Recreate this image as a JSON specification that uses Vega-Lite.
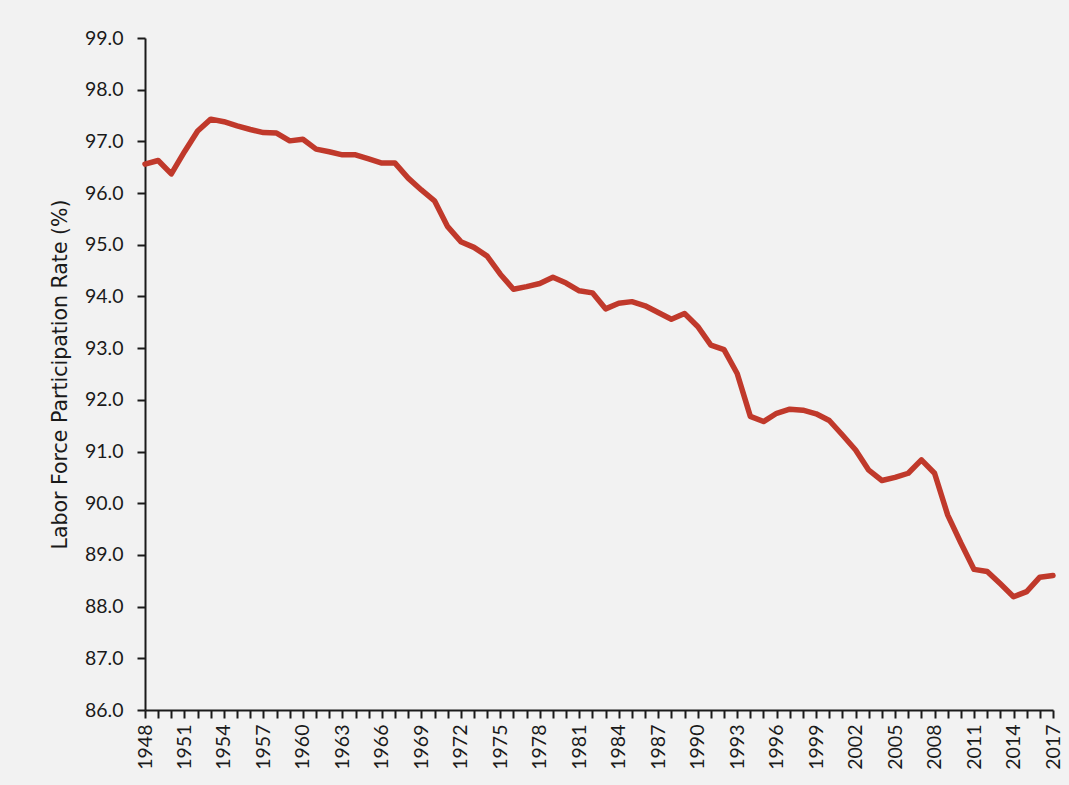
{
  "$schema": "https://vega.github.io/schema/vega-lite/v6.json",
  "width": 908,
  "height": 672,
  "autosize": {"type": "none"},
  "padding": {"left": 145, "top": 38, "right": 16, "bottom": 75},
  "background": "#f2f2f2",
  "config": {
    "view": {"stroke": null},
    "font": "Lato",
    "axis": {
      "labelFont": "Lato",
      "titleFont": "DejaVu Sans",
      "labelColor": "#1a1a1a",
      "titleColor": "#1a1a1a",
      "domainColor": "#1a1a1a",
      "tickColor": "#1a1a1a",
      "domainWidth": 2,
      "tickWidth": 2,
      "tickSize": 8,
      "grid": false
    }
  },
  "data": {
    "values": [
      {"year": 1948, "rate": 96.56},
      {"year": 1949, "rate": 96.63},
      {"year": 1950, "rate": 96.37},
      {"year": 1951, "rate": 96.8},
      {"year": 1952, "rate": 97.2},
      {"year": 1953, "rate": 97.43},
      {"year": 1954, "rate": 97.38},
      {"year": 1955, "rate": 97.3},
      {"year": 1956, "rate": 97.23},
      {"year": 1957, "rate": 97.17},
      {"year": 1958, "rate": 97.16},
      {"year": 1959, "rate": 97.01},
      {"year": 1960, "rate": 97.04},
      {"year": 1961, "rate": 96.85},
      {"year": 1962, "rate": 96.8},
      {"year": 1963, "rate": 96.74},
      {"year": 1964, "rate": 96.74},
      {"year": 1965, "rate": 96.66},
      {"year": 1966, "rate": 96.58},
      {"year": 1967, "rate": 96.58},
      {"year": 1968, "rate": 96.29},
      {"year": 1969, "rate": 96.06},
      {"year": 1970, "rate": 95.85},
      {"year": 1971, "rate": 95.35},
      {"year": 1972, "rate": 95.06},
      {"year": 1973, "rate": 94.95},
      {"year": 1974, "rate": 94.78},
      {"year": 1975, "rate": 94.43},
      {"year": 1976, "rate": 94.14},
      {"year": 1977, "rate": 94.19},
      {"year": 1978, "rate": 94.25},
      {"year": 1979, "rate": 94.37},
      {"year": 1980, "rate": 94.26},
      {"year": 1981, "rate": 94.11},
      {"year": 1982, "rate": 94.07},
      {"year": 1983, "rate": 93.76},
      {"year": 1984, "rate": 93.87},
      {"year": 1985, "rate": 93.9},
      {"year": 1986, "rate": 93.82},
      {"year": 1987, "rate": 93.69},
      {"year": 1988, "rate": 93.56},
      {"year": 1989, "rate": 93.67},
      {"year": 1990, "rate": 93.42},
      {"year": 1991, "rate": 93.06},
      {"year": 1992, "rate": 92.97},
      {"year": 1993, "rate": 92.51},
      {"year": 1994, "rate": 91.68},
      {"year": 1995, "rate": 91.58},
      {"year": 1996, "rate": 91.74},
      {"year": 1997, "rate": 91.82},
      {"year": 1998, "rate": 91.8},
      {"year": 1999, "rate": 91.73},
      {"year": 2000, "rate": 91.6},
      {"year": 2001, "rate": 91.32},
      {"year": 2002, "rate": 91.03},
      {"year": 2003, "rate": 90.64},
      {"year": 2004, "rate": 90.44},
      {"year": 2005, "rate": 90.5},
      {"year": 2006, "rate": 90.58},
      {"year": 2007, "rate": 90.84},
      {"year": 2008, "rate": 90.58},
      {"year": 2009, "rate": 89.77},
      {"year": 2010, "rate": 89.23},
      {"year": 2011, "rate": 88.72},
      {"year": 2012, "rate": 88.68},
      {"year": 2013, "rate": 88.44},
      {"year": 2014, "rate": 88.19},
      {"year": 2015, "rate": 88.29},
      {"year": 2016, "rate": 88.57},
      {"year": 2017, "rate": 88.6}
    ]
  },
  "mark": {"type": "line", "color": "#c0392b", "strokeWidth": 5.5, "strokeJoin": "round", "strokeCap": "round"},
  "encoding": {
    "x": {
      "field": "year",
      "type": "quantitative",
      "scale": {"domain": [1948, 2017], "nice": false, "zero": false},
      "axis": {
        "title": null,
        "values": [1948,1949,1950,1951,1952,1953,1954,1955,1956,1957,1958,1959,1960,1961,1962,1963,1964,1965,1966,1967,1968,1969,1970,1971,1972,1973,1974,1975,1976,1977,1978,1979,1980,1981,1982,1983,1984,1985,1986,1987,1988,1989,1990,1991,1992,1993,1994,1995,1996,1997,1998,1999,2000,2001,2002,2003,2004,2005,2006,2007,2008,2009,2010,2011,2012,2013,2014,2015,2016,2017],
        "labelExpr": "(datum.value - 1948) % 3 === 0 ? format(datum.value, 'd') : ''",
        "labelAngle": -90,
        "labelFontSize": 19.5,
        "labelPadding": 6,
        "labelOverlap": false,
        "labelBound": false,
        "labelFlush": false
      }
    },
    "y": {
      "field": "rate",
      "type": "quantitative",
      "scale": {"domain": [86, 99], "nice": false, "zero": false},
      "axis": {
        "title": "Labor Force Participation Rate (%)",
        "values": [86,87,88,89,90,91,92,93,94,95,96,97,98,99],
        "format": ".1f",
        "labelFontSize": 19.5,
        "labelPadding": 14,
        "titleFontSize": 20.5,
        "titleFontWeight": "normal",
        "titlePadding": 14,
        "labelOverlap": false,
        "labelBound": false,
        "labelFlush": false
      }
    }
  }
}
